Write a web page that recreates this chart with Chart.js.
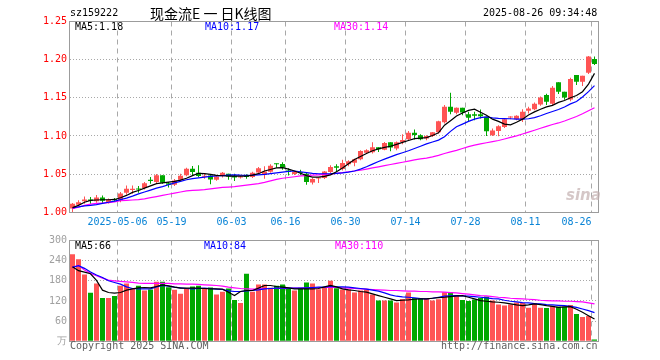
<!DOCTYPE html>
<html><head><meta charset="utf-8">
<script src="https://cdn.jsdelivr.net/npm/chart.js@4.4.1/dist/chart.umd.min.js"></script>
<style>
body{margin:0;background:#fff;width:660px;height:360px;overflow:hidden;position:relative;font-family:"DejaVu Sans Mono",monospace;}
.t{position:absolute;font-size:10px;line-height:12px;white-space:nowrap;}
#c1{position:absolute;left:0;top:0;}
#c2{position:absolute;left:0;top:230px;}
</style></head><body>
<canvas id="c1" width="660" height="230"></canvas>
<canvas id="c2" width="660" height="120"></canvas>
<div class="t" style="left:70px;top:7px;color:#000">sz159222</div>
<div class="t" style="left:150px;top:4px;font-family:'Noto Sans CJK SC';font-size:14px;line-height:18px;color:#000">现金流E 一 日K线图</div>
<div class="t" style="left:483px;top:7px;color:#000">2025-08-26 09:34:48</div>
<div class="t" style="left:75px;top:21px;color:#000">MA5:1.18</div>
<div class="t" style="left:205px;top:21px;color:#0000ff">MA10:1.17</div>
<div class="t" style="left:334px;top:21px;color:#ff00ff">MA30:1.14</div>
<div class="t" style="left:75px;top:240px;color:#000">MA5:66</div>
<div class="t" style="left:204px;top:240px;color:#0000ff">MA10:84</div>
<div class="t" style="left:335px;top:240px;color:#ff00ff">MA30:110</div>
<div class="t" style="left:566px;top:186px;font-family:'DejaVu Sans';font-style:italic;font-weight:bold;font-size:15px;line-height:18px;color:rgba(195,175,175,0.7)">sina</div>
<div class="t" style="left:70px;top:340px;color:#606060">Copyright 2025 SINA.COM</div>
<div class="t" style="left:441px;top:340px;color:#606060">http://finance.sina.com.cn</div>
<script>
const dates = ['2025-04-21','2025-04-22','2025-04-23','2025-04-24','2025-04-25','2025-04-28','2025-04-29','2025-04-30',
'2025-05-06','2025-05-07','2025-05-08','2025-05-09','2025-05-12','2025-05-13','2025-05-14','2025-05-15','2025-05-16',
'2025-05-19','2025-05-20','2025-05-21','2025-05-22','2025-05-23','2025-05-26','2025-05-27','2025-05-28','2025-05-29','2025-05-30',
'2025-06-03','2025-06-04','2025-06-05','2025-06-06','2025-06-09','2025-06-10','2025-06-11','2025-06-12','2025-06-13',
'2025-06-16','2025-06-17','2025-06-18','2025-06-19','2025-06-20','2025-06-23','2025-06-24','2025-06-25','2025-06-26','2025-06-27',
'2025-06-30','2025-07-01','2025-07-02','2025-07-03','2025-07-04','2025-07-07','2025-07-08','2025-07-09','2025-07-10','2025-07-11',
'2025-07-14','2025-07-15','2025-07-16','2025-07-17','2025-07-18','2025-07-21','2025-07-22','2025-07-23','2025-07-24','2025-07-25',
'2025-07-28','2025-07-29','2025-07-30','2025-07-31','2025-08-01','2025-08-04','2025-08-05','2025-08-06','2025-08-07','2025-08-08',
'2025-08-11','2025-08-12','2025-08-13','2025-08-14','2025-08-15','2025-08-18','2025-08-19','2025-08-20','2025-08-21','2025-08-22',
'2025-08-25','2025-08-26'];

const tickIdx  = [8, 17, 27, 36, 46, 56, 66, 76, 87];
const tickText = ['2025-05-06','05-19','06-03','06-16','06-30','07-14','07-28','08-11','08-26'];

const opens = [1.005,1.0097,1.0145,1.0167,1.0145,1.0194,1.0123,1.0172,1.0154,1.0255,1.029,1.0312,1.0316,1.0426,1.0395,1.0483,1.0378,1.036,1.0426,1.0483,1.0571,1.0518,1.0465,1.048,1.0425,1.0474,1.0504,1.0474,1.0456,1.047,1.0461,1.0522,1.0487,1.0531,1.064,1.0632,1.0548,1.05,1.0526,1.0504,1.039,1.0443,1.0447,1.0526,1.0601,1.0566,1.0627,1.0649,1.0693,1.0781,1.0785,1.0851,1.082,1.0917,1.0834,1.0921,1.0956,1.104,1.1009,1.0965,1.1,1.1048,1.118,1.1382,1.1303,1.1368,1.1285,1.1285,1.1285,1.125,1.1009,1.1066,1.1118,1.124,1.1219,1.1219,1.1329,1.1351,1.1412,1.1535,1.1421,1.1702,1.1579,1.1478,1.1798,1.171,1.1829,1.2009];
const highs = [1.012,1.0158,1.0207,1.0198,1.0224,1.022,1.018,1.0185,1.0264,1.0351,1.035,1.0343,1.0395,1.0461,1.0501,1.0483,1.0395,1.0435,1.0505,1.0584,1.0606,1.0615,1.05,1.05,1.0482,1.0526,1.0504,1.0504,1.0478,1.0496,1.0531,1.0592,1.0601,1.0627,1.064,1.0654,1.0575,1.0539,1.0557,1.0518,1.0447,1.0452,1.054,1.0614,1.0627,1.0689,1.068,1.0702,1.0812,1.0825,1.0917,1.0851,1.0921,1.0917,1.0926,1.1022,1.1066,1.1083,1.1022,1.1009,1.1053,1.1198,1.1404,1.1566,1.1373,1.1368,1.1316,1.1316,1.1346,1.125,1.1097,1.114,1.1228,1.1259,1.1272,1.1351,1.1382,1.1439,1.1518,1.1553,1.1654,1.1702,1.1579,1.1763,1.1798,1.1789,1.2048,1.204];
const lows = [0.999,1.0088,1.011,1.011,1.0123,1.0115,1.0115,1.014,1.0132,1.0229,1.0242,1.0255,1.0299,1.0373,1.0373,1.0373,1.0325,1.0343,1.0409,1.047,1.0474,1.0457,1.044,1.0365,1.0412,1.0456,1.0425,1.0408,1.0443,1.044,1.0447,1.0504,1.0439,1.0518,1.0583,1.0557,1.0482,1.0487,1.0487,1.036,1.0364,1.0382,1.0434,1.0513,1.0526,1.0548,1.0601,1.0601,1.068,1.0768,1.0768,1.079,1.0812,1.0798,1.0812,1.089,1.0943,1.0952,1.0943,1.0943,1.0987,1.1031,1.1162,1.1285,1.1285,1.1272,1.1193,1.1206,1.1228,1.1,1.1,1.0996,1.1105,1.122,1.1206,1.1184,1.1294,1.1338,1.1395,1.1404,1.1404,1.1548,1.1474,1.1456,1.1667,1.1654,1.1811,1.193];
const closes = [1.011,1.0132,1.0167,1.015,1.0194,1.015,1.0167,1.0158,1.0246,1.0308,1.0308,1.0299,1.0378,1.0409,1.0483,1.0387,1.036,1.0417,1.0479,1.0571,1.0527,1.0474,1.0478,1.0428,1.0469,1.0518,1.0469,1.0456,1.0469,1.046,1.0518,1.0575,1.0535,1.061,1.0627,1.0583,1.0526,1.0531,1.0513,1.0395,1.0434,1.045,1.0535,1.0592,1.0583,1.0645,1.0667,1.0693,1.0803,1.0812,1.0851,1.0825,1.0908,1.0847,1.0917,1.0948,1.104,1.1013,1.0956,1.1,1.1048,1.1193,1.1382,1.1316,1.1369,1.1307,1.1237,1.1263,1.1259,1.1061,1.107,1.1127,1.1219,1.1256,1.1263,1.1316,1.136,1.1421,1.1504,1.1447,1.1632,1.1579,1.1504,1.1746,1.171,1.1789,1.204,1.1943];

const ma5 = [1.006,1.009,1.013,1.0155,1.016,1.0163,1.0163,1.0167,1.019,1.022,1.026,1.0285,1.0315,1.0345,1.0375,1.0385,1.0395,1.0405,1.042,1.0445,1.048,1.051,1.0505,1.0495,1.0482,1.0478,1.0474,1.0474,1.0472,1.0474,1.0485,1.0505,1.054,1.056,1.058,1.0585,1.0565,1.054,1.051,1.048,1.046,1.046,1.047,1.049,1.053,1.058,1.0635,1.069,1.073,1.077,1.0805,1.083,1.085,1.0865,1.089,1.0915,1.094,1.0965,1.097,1.0978,1.1005,1.104,1.114,1.12,1.126,1.13,1.1335,1.135,1.131,1.127,1.122,1.119,1.1155,1.1145,1.118,1.122,1.1275,1.1315,1.135,1.138,1.14,1.144,1.1465,1.15,1.153,1.158,1.168,1.182];
const ma10 = [1.0055,1.007,1.0083,1.009,1.01,1.0115,1.013,1.0145,1.0165,1.0185,1.021,1.024,1.0265,1.029,1.0315,1.0335,1.036,1.0385,1.0405,1.0425,1.044,1.045,1.046,1.047,1.0475,1.048,1.0485,1.049,1.0485,1.0482,1.0485,1.049,1.0496,1.0505,1.0515,1.0525,1.0535,1.054,1.053,1.052,1.051,1.0504,1.0504,1.0505,1.051,1.0515,1.0525,1.054,1.0565,1.0595,1.063,1.0665,1.0695,1.0725,1.0755,1.078,1.0805,1.0835,1.0865,1.0895,1.092,1.0945,1.099,1.106,1.112,1.1155,1.119,1.122,1.124,1.125,1.1237,1.123,1.1228,1.1225,1.122,1.1219,1.1225,1.124,1.1265,1.1294,1.132,1.1346,1.138,1.142,1.145,1.151,1.158,1.166];
const ma30 = [1.0045,1.0065,1.009,1.0105,1.0115,1.012,1.0125,1.0135,1.015,1.0155,1.016,1.0165,1.0175,1.019,1.0205,1.022,1.0235,1.025,1.0265,1.028,1.0285,1.029,1.0295,1.0305,1.0315,1.0325,1.033,1.0335,1.0345,1.0355,1.0365,1.0375,1.039,1.041,1.043,1.0445,1.0455,1.0465,1.0475,1.048,1.0485,1.049,1.0495,1.05,1.051,1.052,1.053,1.054,1.055,1.0565,1.058,1.0595,1.061,1.0625,1.064,1.0655,1.067,1.0685,1.07,1.071,1.0725,1.0745,1.077,1.079,1.081,1.0835,1.086,1.088,1.0895,1.091,1.0925,1.094,1.096,1.098,1.1,1.1025,1.105,1.1075,1.11,1.1125,1.115,1.117,1.1195,1.1225,1.1255,1.129,1.133,1.137];

const volume = [259,244,199,144,172,129,129,135,165,172,156,165,151,154,177,177,161,153,141,157,163,165,157,160,139,147,157,123,114,201,147,169,169,159,165,169,156,151,159,175,172,155,159,180,158,154,154,145,151,154,139,121,121,121,115,126,145,129,128,126,121,125,146,146,138,123,120,124,129,133,121,109,106,109,115,114,100,114,100,99,105,103,103,108,81,72,75,5];
const volMa5 = [222,210,206,201,181,152,145,143,145,152,156,159,160,159,163,168,165,161,158,158,158,158,157,156,156,155,146,136,148,151,151,158,166,166,163,161,159,156,156,156,156,157,162,166,162,156,153,151,148,146,141,136,131,126,121,122,123,125,126,126,128,130,131,133,135,136,131,126,121,119,117,116,114,111,108,106,108,111,109,106,104,101,102,103,95,86,76,66];
const volMa10 = [220,225,217,206,197,190,180,175,170,162,157,156,156,156,162,166,164,161,159,157,156,157,158,157,155,154,150,148,148,150,151,153,156,157,158,158,158,158,158,159,160,161,161,163,162,162,161,159,157,155,152,149,144,138,134,132,131,129,127,126,128,131,134,135,136,135,134,133,131,129,127,126,122,119,117,115,114,112,111,109,108,107,106,104,101,96,91,85];
const volMa30 = [220,226,212,202,195,188,182,180,178,177,175,173,172,172,172,172,172,171,171,170,170,169,168,167,166,164,161,159,157,156,155,156,157,157,157,157,158,158,158,159,159,160,160,161,160,159,158,157,156,155,154,153,152,151,151,150,149,149,148,148,147,147,146,145,144,142,140,138,136,135,133,131,130,128,127,126,125,124,122,121,120,120,119,119,118,117,114,111];

const RED = '#ff5454', GREEN = '#00a800';
const GRID = '#a8a8a8', NONE = 'rgba(0,0,0,0)';
const FONT = {family: "'DejaVu Sans Mono', monospace", size: 10};

const upColors = opens.map((o, i) => closes[i] >= o ? RED : GREEN);
const bodies = opens.map((o, i) => [Math.min(o, closes[i]), Math.max(o, closes[i])]);
const wicks = lows.map((l, i) => [l, highs[i]]);

const frame = {id: 'frame', afterDraw(c) {
  const a = c.chartArea, ctx = c.ctx;
  ctx.save(); ctx.strokeStyle = '#9c9c9c'; ctx.lineWidth = 1;
  const x0 = Math.round(a.left) - 0.5, y0 = Math.round(a.top) - 0.5;
  const x1 = Math.round(a.right) + 0.5, y1 = Math.round(a.bottom) + 0.5;
  ctx.strokeRect(x0, y0, x1 - x0, y1 - y0);
  ctx.restore();
}};

function xScale(showLabels, h) {
  return {
    type: 'category', offset: true,
    grid: {offset: true, drawTicks: false, lineWidth: 1,
      color: ctx => tickIdx.includes(ctx.index) ? GRID : NONE},
    border: {display: false, dash: [5, 4]},
    ticks: {display: showLabels, autoSkip: false, maxRotation: 0, minRotation: 0,
      padding: 4, labelOffset: -3, color: '#0a84d6', font: FONT,
      callback: (v, i) => {
        const k = tickIdx.indexOf(i);
        if (k < 0) return '';
        return k === tickIdx.length - 1 ? tickText[k] + '     ' : tickText[k];
      }},
    afterFit: s => { s.height = h; }
  };
}
function line(data, color) {
  return {type: 'line', data, borderColor: color, borderWidth: 1.2, pointRadius: 0,
    fill: false, tension: 0, order: 0};
}
const common = {responsive: false, animation: false, events: [],
  plugins: {legend: {display: false}, tooltip: {enabled: false}}};

new Chart(document.getElementById('c1'), {
  type: 'bar',
  data: {labels: dates, datasets: [
    line(ma5, '#000000'), line(ma10, '#0000ff'), line(ma30, '#ff00ff'),
    {data: bodies, backgroundColor: upColors, barThickness: 5, minBarLength: 1, inflateAmount: 0, grouped: false, order: 1},
    {data: wicks, backgroundColor: upColors, barThickness: 1, inflateAmount: 0, grouped: false, order: 2}
  ]},
  options: Object.assign({}, common, {
    layout: {padding: {top: 21.5, right: 62.5, bottom: 0, left: 0}},
    scales: {
      x: xScale(true, 17.8),
      y: {min: 1.0, max: 1.25,
        grid: {drawTicks: false, color: ctx => (ctx.tick && ctx.tick.value > 1.001 && ctx.tick.value < 1.249) ? GRID : NONE},
        border: {display: false, dash: [1, 2]},
        ticks: {stepSize: 0.05, padding: 2.5, color: '#ff0000', font: FONT, callback: v => v.toFixed(2)},
        afterFit: s => { s.width = 69.5; }}
    }
  }),
  plugins: [frame]
});

new Chart(document.getElementById('c2'), {
  type: 'bar',
  data: {labels: dates, datasets: [
    line(volMa5, '#000000'), line(volMa10, '#0000ff'), line(volMa30, '#ff00ff'),
    {data: volume, backgroundColor: upColors, barThickness: 5, inflateAmount: 0, grouped: false, order: 1}
  ]},
  options: Object.assign({}, common, {
    layout: {padding: {top: 10.5, right: 62.5, bottom: 0, left: 0}},
    scales: {
      x: xScale(false, 8.8),
      y: {min: 0, max: 300,
        grid: {drawTicks: false, color: ctx => (ctx.tick && ctx.tick.value > 0 && ctx.tick.value < 300) ? GRID : NONE},
        border: {display: false, dash: [1, 2]},
        ticks: {stepSize: 60, padding: 2.5, color: '#a0a0a0', font: FONT, callback: v => v === 0 ? '万' : String(v)},
        afterFit: s => { s.width = 69.5; }}
    }
  }),
  plugins: [frame]
});
</script>
</body></html>
